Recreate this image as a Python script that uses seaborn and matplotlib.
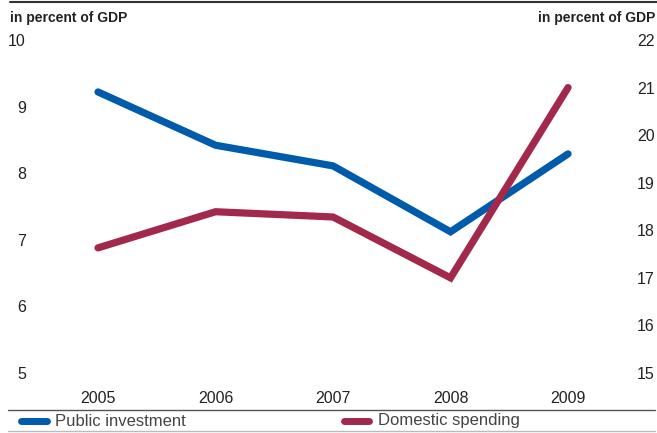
import numpy as np
import pandas as pd
import matplotlib.pyplot as plt
import seaborn as sns
from matplotlib.lines import Line2D

# data
years = ["2005", "2006", "2007", "2008", "2009"]
public_investment = [9.22, 8.42, 8.11, 7.12, 8.29]   # left axis
domestic_spending = [17.63, 18.39, 18.28, 17.0, 21.0]  # right axis
left_ticks = [5, 6, 7, 8, 9, 10]
right_ticks = [15, 16, 17, 18, 19, 20, 21, 22]

blue = "#005BAA"
red = "#A3294C"

sns.set_theme(style="white")
plt.rcParams["font.family"] = ["Liberation Sans", "DejaVu Sans"]

df = pd.DataFrame({"year": np.arange(len(years)),
                   "pi": public_investment,
                   "ds": domestic_spending})

W, H = 657, 433
fig = plt.figure(figsize=(W / 100, H / 100), dpi=100)
ax = fig.add_axes([0, (H - 373) / H, 1, (373 - 40) / H])
ax2 = ax.twinx()

sns.lineplot(data=df, x="year", y="pi", ax=ax, color=blue, lw=5.2,
             solid_capstyle="round", solid_joinstyle="miter")
sns.lineplot(data=df, x="year", y="ds", ax=ax2, color=red, lw=5.2,
             solid_capstyle="round", solid_joinstyle="miter")

ax.set_xlim(-0.834, 4.757)
ax.set_ylim(5, 10)
ax2.set_ylim(15, 22)
ax.set_xticks(range(len(years)))
ax.set_xticklabels(years)
ax.set_yticks(left_ticks)
ax2.set_yticks(right_ticks)
ax.set_xlabel("")
ax.set_ylabel("")
ax2.set_ylabel("")
for a in (ax, ax2):
    for s in a.spines.values():
        s.set_visible(False)
    a.grid(False)
ax.tick_params(axis="y", length=0, pad=-18.7, labelsize=11.5, colors="#222222")
ax.tick_params(axis="x", length=0, pad=13, labelsize=11.5, colors="#222222")
ax2.tick_params(axis="y", length=0, pad=-1.5, labelsize=11.5, colors="#222222")
for lab in ax.get_yticklabels():
    lab.set_horizontalalignment("right")
for lab in ax2.get_yticklabels():
    lab.set_horizontalalignment("right")

# headers
fig.text(10 / W, 1 - 18 / H, "in percent of GDP", fontsize=10, fontweight="bold",
         ha="left", va="center", color="#222222")
fig.text(655 / W, 1 - 18 / H, "in percent of GDP", fontsize=10, fontweight="bold",
         ha="right", va="center", color="#222222")

# rules
fig.add_artist(Line2D([10 / W, 1], [1 - 2 / H, 1 - 2 / H], color="#333333", lw=1.5))
fig.add_artist(Line2D([8 / W, 655 / W], [1 - 410 / H, 1 - 410 / H], color="#555555", lw=1))
fig.add_artist(Line2D([8 / W, 655 / W], [1 - 431 / H, 1 - 431 / H], color="#bbbbbb", lw=1))

# legend
ly = 1 - 421 / H
fig.add_artist(Line2D([20.5 / W, 46.5 / W], [ly, ly], color=blue, lw=5, solid_capstyle="round"))
fig.text(55 / W, ly, "Public investment", fontsize=12, va="center", color="#444444")
fig.add_artist(Line2D([343.5 / W, 368.5 / W], [ly, ly], color=red, lw=5, solid_capstyle="round"))
fig.text(378 / W, ly, "Domestic spending", fontsize=12, va="center", color="#444444")

fig.savefig("out.png", dpi=100)
